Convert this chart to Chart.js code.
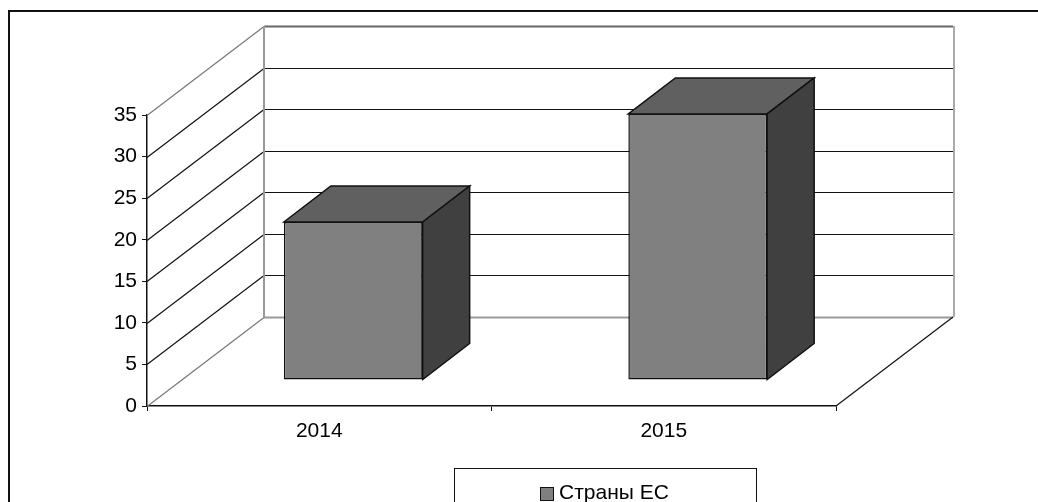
<!DOCTYPE html>
<html>
<head>
<meta charset="utf-8">
<script src="https://cdn.jsdelivr.net/npm/chart.js@4/dist/chart.umd.min.js"></script>
<style>
  html, body { margin: 0; padding: 0; background: #fff; }
</style>
</head>
<body>
<canvas id="chart" width="1038" height="502"></canvas>
<script>
// chart data
const categories = ['2014', '2015'];
const seriesName = 'Страны ЕС';
const seriesValues = [19, 32];
const yMin = 0;
const yMax = 35;
const yStep = 5;

// 3d look: depth of the floor and where the bars sit in it
const DEPTH_X = 117, DEPTH_Y = -89;
const BAR_FRONT_X = 34, BAR_FRONT_Y = -26;
const BAR_DEPTH_X = 47, BAR_DEPTH_Y = -36;
const FONT = "'Liberation Sans', Arial, sans-serif";

function line(ctx, pts, color, width) {
    ctx.beginPath();
    ctx.moveTo(pts[0][0], pts[0][1]);
    for (let i = 1; i < pts.length; i++) ctx.lineTo(pts[i][0], pts[i][1]);
    ctx.strokeStyle = color;
    ctx.lineWidth = width;
    ctx.stroke();
}

function poly(ctx, pts, fill) {
    ctx.beginPath();
    ctx.moveTo(pts[0][0], pts[0][1]);
    for (let i = 1; i < pts.length; i++) ctx.lineTo(pts[i][0], pts[i][1]);
    ctx.closePath();
    ctx.fillStyle = fill;
    ctx.fill();
    ctx.strokeStyle = '#111';
    ctx.lineWidth = 1.5;
    ctx.stroke();
}

const threeD = {
    id: 'threeD',
    beforeDraw(chart) {
        const ctx = chart.ctx;
        ctx.save();
        // outer frame
        line(ctx, [[9, 502], [9, 11], [1038, 11]], '#111', 2);
        ctx.restore();
    },
    beforeDatasetsDraw(chart) {
        const ctx = chart.ctx;
        const y = chart.scales.y;
        const left = chart.chartArea.left, right = chart.chartArea.right;
        ctx.save();
        ctx.lineCap = 'butt';
        for (let v = yMin; v <= yMax; v += yStep) {
            const py = Math.round(y.getPixelForValue(v)) + 0.5;
            let diag = '#111', back = '#111', w = 1.2;
            if (v === yMin) { diag = '#777'; back = '#999'; w = 2; }
            if (v === yMax) { diag = '#777'; back = '#666'; w = 2; }
            line(ctx, [[left, py], [left + DEPTH_X, py + DEPTH_Y]], diag, 1.2);
            line(ctx, [[left + DEPTH_X, py + DEPTH_Y], [right + DEPTH_X, py + DEPTH_Y]], back, w);
        }
        const top = y.getPixelForValue(yMax) + DEPTH_Y;
        const bottom = y.getPixelForValue(yMin) + DEPTH_Y;
        line(ctx, [[left + DEPTH_X, top], [left + DEPTH_X, bottom]], '#999', 2);
        line(ctx, [[right + DEPTH_X + 1, top], [right + DEPTH_X + 1, bottom]], '#aaa', 2);
        // right edge of the floor
        const y0 = y.getPixelForValue(yMin);
        line(ctx, [[right, y0], [right + DEPTH_X, y0 + DEPTH_Y]], '#111', 1.2);
        ctx.restore();
    },
    beforeDatasetDraw(chart) {
        chart.ctx.save();
        chart.ctx.translate(BAR_FRONT_X, BAR_FRONT_Y);
    },
    afterDatasetDraw(chart, args) {
        const ctx = chart.ctx;
        ctx.restore();
        ctx.save();
        args.meta.data.forEach(bar => {
            const p = bar.getProps(['x', 'y', 'base', 'width'], true);
            const l = p.x - p.width / 2 + BAR_FRONT_X;
            const r = p.x + p.width / 2 + BAR_FRONT_X;
            const t = p.y + BAR_FRONT_Y;
            const b = p.base + BAR_FRONT_Y;
            // top face
            poly(ctx, [[l, t], [l + BAR_DEPTH_X, t + BAR_DEPTH_Y],
                       [r + BAR_DEPTH_X, t + BAR_DEPTH_Y], [r, t]], '#606060');
            // side face
            poly(ctx, [[r, t], [r + BAR_DEPTH_X, t + BAR_DEPTH_Y],
                       [r + BAR_DEPTH_X, b + BAR_DEPTH_Y], [r, b]], '#404040');
        });
        ctx.restore();
    },
    afterDraw(chart) {
        const ctx = chart.ctx;
        ctx.save();
        // legend box
        ctx.strokeStyle = '#111';
        ctx.lineWidth = 1;
        ctx.strokeRect(454.5, 468.5, 302, 40);
        ctx.fillStyle = '#808080';
        ctx.fillRect(540.5, 487.5, 13, 13);
        ctx.strokeRect(540.5, 487.5, 13, 13);
        ctx.fillStyle = '#000';
        ctx.font = '21px ' + FONT;
        ctx.textBaseline = 'alphabetic';
        ctx.fillText(chart.data.datasets[0].label, 559, 499);
        ctx.restore();
    }
};

const ctx = document.getElementById('chart').getContext('2d');
const chart = new Chart(ctx, {
    type: 'bar',
    data: {
        labels: categories,
        datasets: [{
            label: seriesName,
            data: seriesValues,
            backgroundColor: '#808080',
            borderColor: '#111',
            borderWidth: 1.5,
            borderSkipped: false,
            categoryPercentage: 1,
            barPercentage: 0.403,
            clip: false
        }]
    },
    options: {
        responsive: false,
        devicePixelRatio: 1,
        animation: false,
        layout: {
            padding: { left: 0, top: 115, right: 202, bottom: 56 }
        },
        plugins: {
            legend: { display: false },
            tooltip: { enabled: false }
        },
        scales: {
            x: {
                offset: true,
                grid: {
                    offset: true,
                    drawOnChartArea: false,
                    tickLength: 5,
                    color: '#111'
                },
                border: { display: true, color: '#111', width: 1.5 },
                ticks: {
                    color: '#000',
                    font: { family: FONT, size: 21 },
                    padding: 8,
                    maxRotation: 0
                },
                afterFit(scale) { scale.height = 40; }
            },
            y: {
                min: yMin,
                max: yMax,
                grid: {
                    drawOnChartArea: false,
                    tickLength: 5,
                    color: '#111'
                },
                border: { display: true, color: '#111', width: 1.5 },
                ticks: {
                    stepSize: yStep,
                    color: '#000',
                    font: { family: FONT, size: 21 },
                    padding: 5
                },
                afterFit(scale) { scale.width = 147; }
            }
        }
    },
    plugins: [threeD]
});
</script>
</body>
</html>
